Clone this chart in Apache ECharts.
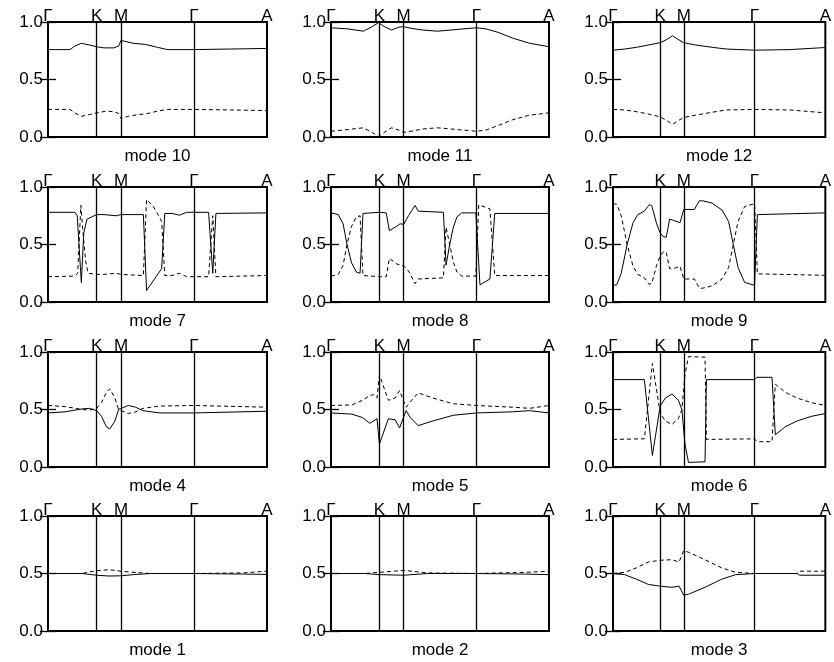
<!DOCTYPE html>
<html><head><meta charset="utf-8">
<script src="https://cdn.jsdelivr.net/npm/echarts@6/dist/echarts.min.js"></script>
<style>html,body{margin:0;padding:0;background:#fff}#c{width:834px;height:662px}</style>
</head><body><div id="c"></div>
<script>
// high-symmetry path: positions and labels
const pathPos = [0, 2, 3, 6, 9];
const pathLabels = ['Γ', 'K', 'M', 'Γ', 'A'];
const vLines = [2, 3, 6];

// mode data: [x, weight] pairs, solid (s) and dashed (d)
const m10s = [[0,0.76],[0.9,0.76],[1.1,0.79],[1.37,0.815],[1.7,0.80],[2.0,0.785],[2.3,0.775],[2.7,0.775],[2.9,0.79],[3.0,0.84],[3.2,0.83],[3.5,0.815],[4.0,0.805],[4.5,0.78],[4.9,0.76],[6,0.76],[7.5,0.765],[9,0.77]];
const m10d = [[0,0.24],[0.9,0.24],[1.1,0.21],[1.37,0.18],[1.7,0.195],[2.0,0.21],[2.4,0.225],[2.7,0.22],[2.9,0.205],[3.0,0.16],[3.3,0.18],[3.7,0.195],[4.0,0.20],[4.5,0.225],[4.9,0.24],[6,0.24],[7.5,0.235],[9,0.23]];
const m11s = [[0,0.95],[0.7,0.94],[1.34,0.92],[1.7,0.96],[1.96,0.995],[2.2,0.96],[2.5,0.93],[2.8,0.955],[3.0,0.96],[3.3,0.945],[3.8,0.93],[4.4,0.92],[5.2,0.935],[6.0,0.95],[6.4,0.94],[6.9,0.91],[7.5,0.86],[8.2,0.815],[9,0.785]];
const m11d = [[0,0.05],[0.7,0.065],[1.34,0.08],[1.7,0.04],[1.96,0.005],[2.2,0.04],[2.5,0.08],[2.8,0.06],[3.0,0.04],[3.3,0.05],[3.8,0.07],[4.4,0.08],[5.2,0.065],[6.0,0.05],[6.4,0.06],[6.9,0.10],[7.5,0.15],[8.2,0.19],[9,0.21]];
const m12s = [[0,0.755],[0.5,0.765],[1.0,0.78],[1.5,0.80],[2.0,0.82],[2.3,0.85],[2.52,0.88],[2.75,0.85],[3.0,0.82],[3.5,0.80],[4.2,0.78],[4.8,0.765],[6,0.755],[7.5,0.76],[9,0.778]];
const m12d = [[0,0.24],[0.5,0.235],[1.0,0.22],[1.5,0.20],[2.0,0.175],[2.3,0.14],[2.52,0.11],[2.75,0.14],[3.0,0.17],[3.5,0.19],[4.2,0.215],[4.8,0.235],[6,0.24],[7.5,0.235],[9,0.21]];
const m7s = [[0,0.78],[1.1,0.78],[1.2,0.75],[1.37,0.17],[1.47,0.6],[1.6,0.72],[2.0,0.76],[2.3,0.76],[2.8,0.75],[3.0,0.76],[3.92,0.76],[4.05,0.10],[4.67,0.29],[4.8,0.77],[5.1,0.77],[5.4,0.755],[5.7,0.78],[6.6,0.78],[6.77,0.25],[6.9,0.77],[9,0.775]];
const m7d = [[0,0.22],[1.1,0.225],[1.22,0.25],[1.35,0.84],[1.44,0.6],[1.55,0.35],[1.65,0.25],[2.0,0.24],[2.3,0.24],[2.8,0.25],[3.0,0.24],[3.92,0.23],[4.05,0.89],[4.3,0.84],[4.55,0.75],[4.67,0.70],[4.8,0.23],[5.1,0.23],[5.4,0.25],[5.7,0.22],[6.6,0.22],[6.77,0.75],[6.9,0.22],[9,0.23]];
const m8s = [[0,0.775],[0.3,0.76],[0.5,0.68],[0.66,0.5],[0.85,0.34],[1.05,0.26],[1.2,0.25],[1.32,0.77],[2.0,0.78],[2.28,0.775],[2.41,0.62],[2.72,0.66],[2.85,0.68],[3.0,0.675],[3.2,0.75],[3.47,0.84],[3.6,0.79],[4.64,0.78],[4.75,0.32],[4.9,0.5],[5.05,0.65],[5.2,0.74],[5.4,0.775],[5.98,0.775],[6.15,0.15],[6.56,0.2],[6.76,0.77],[9,0.77]];
const m8d = [[0,0.225],[0.3,0.24],[0.5,0.32],[0.66,0.5],[0.85,0.66],[1.05,0.74],[1.2,0.75],[1.32,0.23],[2.0,0.22],[2.28,0.22],[2.41,0.38],[2.72,0.33],[3.0,0.315],[3.2,0.27],[3.47,0.16],[3.6,0.2],[4.64,0.21],[4.75,0.65],[4.9,0.5],[5.05,0.35],[5.2,0.26],[5.4,0.225],[5.98,0.225],[6.1,0.845],[6.56,0.81],[6.76,0.23],[9,0.23]];
const m9s = [[0,0.145],[0.16,0.15],[0.35,0.25],[0.6,0.5],[0.85,0.69],[1.05,0.76],[1.33,0.79],[1.53,0.845],[1.64,0.84],[1.85,0.68],[2.0,0.6],[2.15,0.565],[2.26,0.565],[2.4,0.72],[2.56,0.71],[2.84,0.69],[3.0,0.805],[3.45,0.805],[3.66,0.88],[3.8,0.88],[4.2,0.86],[4.62,0.80],[4.9,0.70],[5.1,0.5],[5.3,0.3],[5.58,0.17],[6.0,0.145],[6.12,0.76],[9,0.775]];
const m9d = [[0,0.855],[0.16,0.85],[0.35,0.75],[0.6,0.5],[0.85,0.31],[1.05,0.24],[1.33,0.21],[1.53,0.155],[1.64,0.16],[1.85,0.32],[2.0,0.4],[2.15,0.44],[2.26,0.43],[2.4,0.29],[2.56,0.29],[2.84,0.31],[3.0,0.2],[3.45,0.2],[3.66,0.12],[3.8,0.12],[4.2,0.14],[4.62,0.2],[4.9,0.3],[5.1,0.5],[5.3,0.7],[5.58,0.83],[6.0,0.855],[6.12,0.245],[9,0.232]];
const m4s = [[0,0.47],[0.7,0.48],[1.4,0.505],[1.7,0.51],[2.0,0.49],[2.2,0.44],[2.4,0.35],[2.54,0.33],[2.75,0.40],[2.9,0.50],[3.3,0.535],[3.6,0.52],[3.9,0.49],[4.6,0.47],[6,0.47],[9,0.485]];
const m4d = [[0,0.535],[0.7,0.525],[1.4,0.50],[1.7,0.495],[2.0,0.51],[2.2,0.56],[2.4,0.65],[2.54,0.68],[2.75,0.60],[2.9,0.50],[3.3,0.465],[3.6,0.48],[3.9,0.51],[4.6,0.53],[6,0.535],[9,0.52]];
const m5s = [[0,0.47],[0.86,0.46],[1.3,0.43],[1.6,0.38],[1.9,0.42],[2.0,0.2],[2.37,0.42],[2.65,0.41],[2.83,0.34],[3.1,0.49],[3.27,0.43],[3.6,0.36],[4.2,0.40],[5.05,0.45],[6,0.47],[7.5,0.48],[8.2,0.49],[9,0.47]];
const m5d = [[0,0.535],[0.86,0.54],[1.3,0.58],[1.6,0.62],[1.75,0.63],[1.9,0.60],[2.0,0.80],[2.37,0.58],[2.65,0.60],[2.83,0.665],[3.1,0.52],[3.33,0.58],[3.6,0.645],[4.2,0.60],[5.05,0.55],[6,0.535],[7.5,0.52],[8.2,0.51],[9,0.535]];
const m6s = [[0,0.76],[1.33,0.76],[1.67,0.1],[1.74,0.11],[2.0,0.53],[2.22,0.60],[2.5,0.635],[2.77,0.58],[2.92,0.5],[3.05,0.2],[3.2,0.04],[3.9,0.045],[3.96,0.76],[6.0,0.76],[6.1,0.78],[6.74,0.78],[6.88,0.28],[7.3,0.35],[7.8,0.40],[8.4,0.44],[9,0.465]];
const m6d = [[0,0.24],[1.33,0.245],[1.67,0.9],[1.74,0.89],[2.0,0.47],[2.22,0.40],[2.5,0.37],[2.77,0.42],[2.92,0.5],[3.05,0.8],[3.2,0.96],[3.9,0.955],[3.96,0.24],[6.0,0.245],[6.1,0.22],[6.74,0.22],[6.88,0.72],[7.3,0.65],[7.8,0.60],[8.4,0.56],[9,0.535]];
const m1s = [[0,0.5],[1.4,0.5],[2.0,0.485],[2.5,0.478],[3.0,0.48],[3.5,0.49],[4.2,0.5],[6,0.5],[8,0.495],[9,0.492]];
const m1d = [[0,0.5],[1.4,0.5],[2.0,0.525],[2.5,0.533],[3.0,0.52],[3.5,0.51],[4.2,0.5],[6,0.5],[8,0.505],[9,0.52]];
const m2s = [[0,0.5],[1.4,0.5],[2.0,0.49],[3.0,0.485],[4.0,0.5],[6,0.5],[8,0.495],[9,0.49]];
const m2d = [[0,0.5],[1.4,0.5],[2.0,0.51],[3.0,0.527],[4.0,0.505],[6,0.5],[8,0.51],[9,0.52]];
const m3s = [[0,0.5],[0.5,0.49],[1.0,0.45],[1.5,0.405],[2.0,0.39],[2.5,0.38],[2.8,0.39],[3.0,0.31],[3.2,0.32],[3.9,0.38],[4.6,0.45],[5.2,0.49],[6,0.5],[7.8,0.5],[7.9,0.485],[9,0.485]];
const m3d = [[0,0.5],[0.5,0.51],[1.0,0.55],[1.5,0.60],[2.0,0.615],[2.5,0.62],[2.8,0.60],[3.0,0.70],[3.2,0.685],[3.9,0.62],[4.6,0.55],[5.2,0.51],[6,0.5],[7.8,0.5],[7.9,0.52],[9,0.52]];

const panels = [
  ['mode 10', m10s, m10d], ['mode 11', m11s, m11d], ['mode 12', m12s, m12d],
  ['mode 7', m7s, m7d], ['mode 8', m8s, m8d], ['mode 9', m9s, m9d],
  ['mode 4', m4s, m4d], ['mode 5', m5s, m5d], ['mode 6', m6s, m6d],
  ['mode 1', m1s, m1d], ['mode 2', m2s, m2d], ['mode 3', m3s, m3d]
];

const FONT = "'Liberation Sans', Arial, Helvetica, sans-serif";
const FS = 17;
const colLeft = [48, 331, 613], colW = [219, 218, 219];
const rowTop = [22, 187, 352, 516], H = 115;

const grid = [], xAxis = [], yAxis = [], series = [];
panels.forEach((p, i) => {
  const r = Math.floor(i / 3), c = i % 3;
  grid.push({left: colLeft[c], top: rowTop[r], width: colW[c], height: H,
    show: true, borderColor: '#000', borderWidth: 2, backgroundColor: 'transparent'});
  xAxis.push({gridIndex: i, type: 'value', min: 0, max: 9, position: 'bottom',
    axisLine: {show: false}, axisTick: {show: false}, axisLabel: {show: false}, splitLine: {show: false},
    name: p[0], nameLocation: 'middle', nameGap: 11,
    nameTextStyle: {fontSize: FS, color: '#000', fontFamily: FONT, verticalAlign: 'top'}});
  xAxis.push({gridIndex: i, type: 'value', min: 0, max: 9, interval: 1, position: 'top',
    axisLine: {show: false}, axisTick: {show: false}, splitLine: {show: false},
    axisLabel: {margin: -3, fontSize: FS, color: '#000', fontFamily: FONT,
      formatter: v => { const k = pathPos.indexOf(v); return k >= 0 ? pathLabels[k] : ''; }}});
  yAxis.push({gridIndex: i, type: 'value', min: 0, max: 1, interval: 0.5, position: 'left',
    axisLine: {show: false}, splitLine: {show: false},
    axisTick: {show: true, inside: true, length: 8, lineStyle: {color: '#000', width: 1.3}},
    axisLabel: {margin: 5, fontSize: FS, color: '#000', fontFamily: FONT, formatter: v => v.toFixed(1)}});
  yAxis.push({gridIndex: i, type: 'value', min: 0, max: 1, interval: 0.5, position: 'right',
    axisLine: {show: false}, splitLine: {show: false}, axisLabel: {show: false},
    axisTick: {show: true, inside: true, length: 8, lineStyle: {color: '#000', width: 1.3}}});
  series.push({type: 'line', xAxisIndex: 2 * i, yAxisIndex: 2 * i, data: p[1],
    symbol: 'none', lineStyle: {color: '#000', width: 1}, silent: true,
    markLine: {silent: true, symbol: 'none', animation: false, label: {show: false},
      lineStyle: {color: '#000', width: 1.3, type: 'solid'},
      data: vLines.map(x => ({xAxis: x}))}});
  series.push({type: 'line', xAxisIndex: 2 * i, yAxisIndex: 2 * i, data: p[2],
    symbol: 'none', lineStyle: {color: '#000', width: 1, type: [4, 3]}, silent: true});
});

const chart = echarts.init(document.getElementById('c'), null, {renderer: 'canvas'});
chart.setOption({animation: false, backgroundColor: '#fff', grid, xAxis, yAxis, series});
</script>
</body></html>
